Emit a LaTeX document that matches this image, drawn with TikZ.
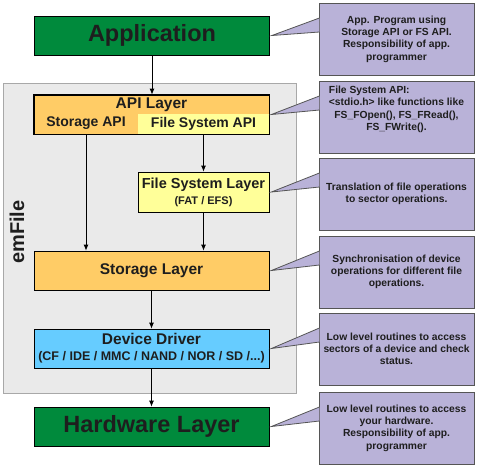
\documentclass[tikz,border=0pt]{standalone}
\usepackage{fontspec}
\setmainfont{Liberation Sans}
\usetikzlibrary{arrows.meta}
\definecolor{appgreen}{RGB}{0,138,60}
\definecolor{apiorange}{RGB}{255,204,102}
\definecolor{fsyellow}{RGB}{255,255,153}
\definecolor{drvblue}{RGB}{102,204,255}
\definecolor{efilegrey}{RGB}{234,234,234}
\definecolor{efileborder}{RGB}{168,168,168}
\definecolor{notelilac}{RGB}{185,178,216}
\definecolor{noteborder}{RGB}{85,85,85}
\definecolor{textdark}{RGB}{30,30,30}
\tikzstyle{node:layer}=[draw=black,line width=0.8pt,minimum width=235pt,minimum height=39pt,inner sep=0pt,text=textdark,font=\bfseries\fontsize{15.5}{18}\selectfont]
\tikzstyle{node:big}=[node:layer,fill=appgreen,font=\bfseries\fontsize{23.5}{28}\selectfont]
\tikzstyle{node:sub}=[inner sep=0pt,text=textdark,font=\bfseries\fontsize{14}{16}\selectfont]
\tikzstyle{node:note}=[draw=noteborder,line width=0.8pt,fill=notelilac,minimum width=155pt,minimum height=72pt,inner sep=0pt,align=center,text=textdark,font=\bfseries\fontsize{10.3}{12.3}\selectfont]
\tikzstyle{draw:pointer}=[draw=noteborder,line width=0.8pt,fill=notelilac]
\tikzstyle{draw:connection}=[-{Latex[length=6pt,width=5pt]},line width=0.8pt]
\begin{document}
\begin{tikzpicture}[x=1pt,y=-1pt]
        \useasboundingbox (0,0) rectangle (478,467);

        % emFile frame
        \node[draw=efileborder,fill=efilegrey,line width=0.8pt,minimum width=293pt,minimum height=310pt,inner sep=0pt] (efile) at (149.5,238) {};
        \node[rotate=90,text=textdark,font=\bfseries\fontsize{20}{24}\selectfont] (efilelabel) at (17,232) {emFile};

        % Layers
        \node[node:big] (app) at (152,35.5) {Application};
        \node[node:layer,fill=apiorange] (api) at (151.5,114.5) {};
        \node[node:sub,fill=fsyellow,minimum width=131pt,minimum height=20pt] (fsapi) at (203.5,124) {File System API};
        \node[node:sub] (sapi) at (86,123.5) {Storage API};
        \node[node:sub,font=\bfseries\fontsize{15.5}{18}\selectfont] (apititle) at (151.5,104.5) {API Layer};
        \draw[line width=0.8pt] (api.north west) rectangle (api.south east);
        \node[node:layer,fill=fsyellow,minimum width=131pt,minimum height=40pt,align=center,font=\bfseries\fontsize{14.5}{16}\selectfont] (fsl) at (203.5,192) {File System Layer\\{\fontsize{11}{13}\selectfont (FAT / EFS)}};
        \node[node:layer,fill=apiorange] (store) at (151.5,270.5) {Storage Layer};
        \node[node:layer,fill=drvblue,align=center,font=\bfseries\fontsize{15.5}{16}\selectfont] (drv) at (151.5,348.5) {Device Driver\\{\fontsize{12.5}{14}\selectfont (CF / IDE / MMC / NAND / NOR / SD /...)}};
        \node[node:big] (hw) at (151.5,426.5) {Hardware Layer};

        % draw:connections between layers
        \draw[draw:connection] (app.south) -- (app.south |- api.north);
        \draw[draw:connection] (sapi.south |- api.south) -- (sapi.south |- store.north);
        \draw[draw:connection] (fsl.north |- api.south) -- (fsl.north);
        \draw[draw:connection] (fsl.south) -- (fsl.south |- store.north);
        \draw[draw:connection] (store) -- (drv);
        \draw[draw:connection] (drv) -- (hw);

        % Notes
        \node[node:note] (n1) at (396.5,39) {App. Program using\\Storage API or FS API.\\Responsibility of app.\\programmer};
        \node[node:note] (n2) at (396.5,117) {\rlap{File System API:}\phantom{<stdio.h> like functions like}\\<stdio.h> like functions like\\FS\_FOpen(), FS\_FRead(),\\FS\_FWrite().\\[5pt]\mbox{}};
        \node[node:note] (n3) at (396.5,194) {Translation of file operations\\to sector operations.};
        \node[node:note] (n4) at (396.5,272) {Synchronisation of device\\operations for different file\\operations.};
        \node[node:note] (n5) at (396.5,349) {Low level routines to access\\sectors of a device and check\\status.};
        \node[node:note] (n6) at (396.5,428) {Low level routines to access\\your hardware.\\Responsibility of app.\\programmer};

        % Pointers from notes to layers
        \filldraw[draw:pointer] ([xshift=0.8pt,yshift=21pt]n1.west) -- ([xshift=2pt]app.east) -- ([xshift=0.8pt,yshift=7pt]n1.west);
        \filldraw[draw:pointer] ([xshift=0.8pt,yshift=21pt]n2.west) -- ([xshift=2pt]api.east) -- ([xshift=0.8pt,yshift=7pt]n2.west);
        \filldraw[draw:pointer] ([xshift=0.8pt,yshift=21pt]n3.west) -- ([xshift=2pt]fsl.east) -- ([xshift=0.8pt,yshift=7pt]n3.west);
        \filldraw[draw:pointer] ([xshift=0.8pt,yshift=21pt]n4.west) -- ([xshift=2pt]store.east) -- ([xshift=0.8pt,yshift=7pt]n4.west);
        \filldraw[draw:pointer] ([xshift=0.8pt,yshift=21pt]n5.west) -- ([xshift=2pt]drv.east) -- ([xshift=0.8pt,yshift=7pt]n5.west);
        \filldraw[draw:pointer] ([xshift=0.8pt,yshift=21pt]n6.west) -- ([xshift=2pt]hw.east) -- ([xshift=0.8pt,yshift=7pt]n6.west);

\end{tikzpicture}
\end{document}
